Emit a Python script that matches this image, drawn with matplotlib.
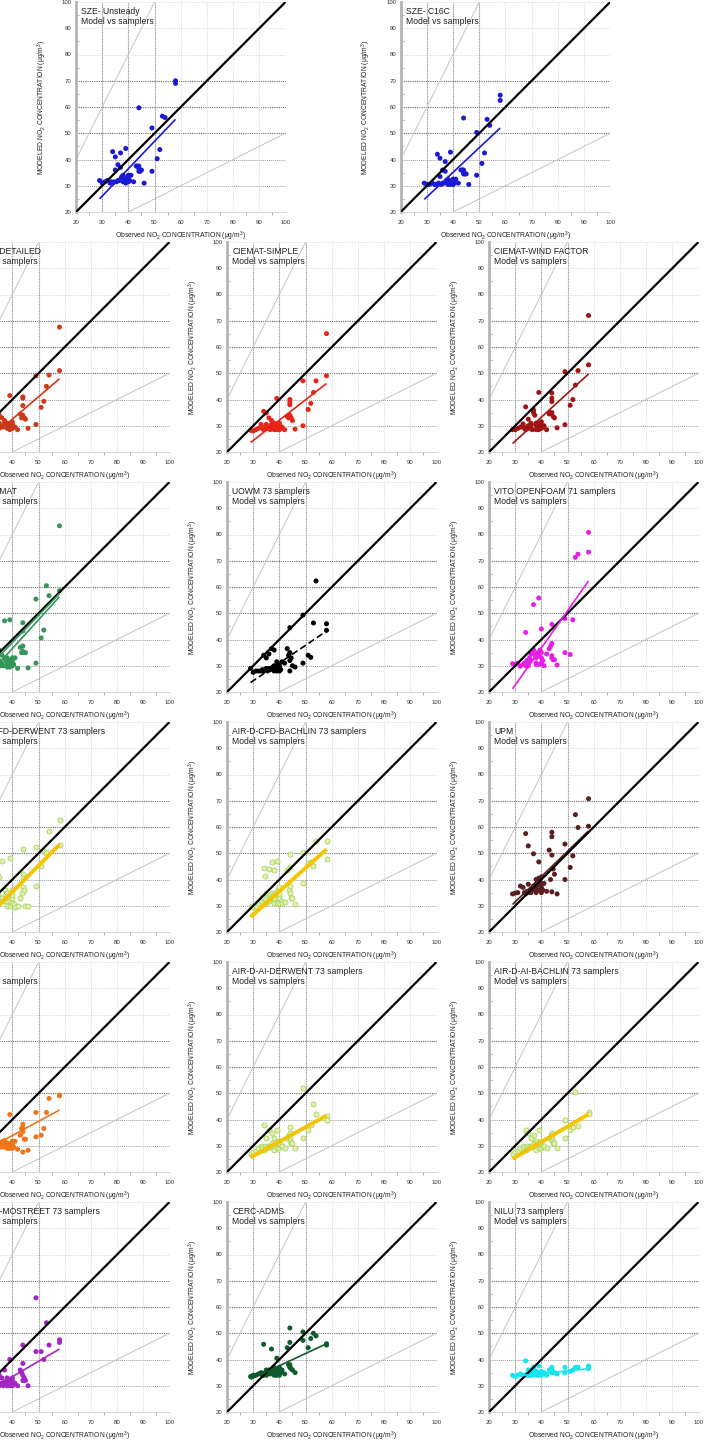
import numpy as np
import matplotlib
matplotlib.use("Agg")
import matplotlib.pyplot as plt

plt.rcParams['font.family'] = ['Liberation Sans', 'DejaVu Sans']
plt.rcParams['mathtext.default'] = 'regular'

# Observed NO2 at the sampler sites (ug/m3)
observed = [29, 30, 31, 32, 33, 33.5, 34, 34, 34.5, 35, 35, 35.5, 36, 36, 36.5,
            37, 37, 37.5, 38, 38, 38, 38.5, 39, 39, 39, 39.5, 40, 40, 40, 40,
            40.5, 41, 42, 43, 43.5, 44, 44, 44, 44, 44.5, 45, 46, 49, 49, 51,
            52, 53, 54, 58, 58]

# Modelled NO2 at the same sites, one list per model
sze_unsteady = [32, 31, 31.5, 32, 31, 31.5, 43, 31, 31.5, 41, 36, 31.5, 38, 32, 32,
                42.5, 37, 33.5, 34, 32.5, 31.5, 33, 44.2, 32, 31, 33, 34, 32.5, 31.5, 33,
                32, 34, 31.5, 37.5, 37.5, 59.7, 37.5, 35.5, 36.5, 35.5, 36, 31, 52, 35.5, 40.3,
                43.8, 56.5, 56, 70, 69]
sze_c16c = [31, 30.5, 30.5, 31, 30.5, 30.5, 42, 30.5, 31, 40.5, 33.5, 30.5, 36, 31, 31,
            39.2, 35.5, 32, 32.5, 31, 30.5, 31.5, 42.8, 31, 30.5, 32, 32.5, 31, 30.5, 31.5,
            31, 32.5, 31, 36, 36, 55.8, 36, 34.5, 35, 34.5, 34.5, 30.5, 50.3, 34, 38.5,
            42.5, 55.3, 53, 64.5, 62.5]
ciemat_detailed = [28.5, 28.5, 29, 29.5, 29, 30, 32, 29, 30, 34, 31, 29.5, 33, 30, 29.5,
                   32, 31, 30, 31, 30, 29, 30.5, 41.5, 30, 28.5, 31, 31.5, 30, 29, 30.5,
                   29.5, 29.5, 28.5, 34.5, 33, 41, 40.5, 37.7, 34, 33, 32.5, 29, 49, 30.5, 37,
                   39.3, 45, 49.3, 67.6, 51]
ciemat_simple = [28.3, 28, 28.5, 29, 30.5, 29, 35.5, 28.5, 29.5, 34.9, 30.5, 29, 33, 29.5, 28.5,
                 32, 30.5, 30, 31, 29.5, 28.5, 30, 40.4, 29.5, 28.5, 30.5, 31, 29.5, 28.5, 30,
                 29, 29.5, 28.5, 33.5, 33, 40, 39, 38, 34, 33, 32, 28.7, 47.1, 30, 36.2,
                 38.5, 42.7, 47.1, 65.1, 49]
ciemat_wind = [28.5, 28.5, 29, 29.5, 30.7, 29, 37.2, 28.5, 29.5, 32.5, 30, 29, 31, 29.5, 28.5,
               36, 35, 34, 31, 30, 28.5, 30.5, 42.7, 30, 28.5, 31, 31.5, 30, 29, 30.5,
               29.5, 30, 28.5, 34.5, 35, 42.5, 40.5, 39.2, 35, 33.5, 33, 29.2, 50.6, 30.4, 37.8,
               40, 45.5, 51, 72, 53.2]
cfd_ciemat = [29, 29.5, 30, 30.5, 31, 30, 38, 29.5, 31, 36, 32, 30, 34, 31, 30,
              47.1, 33, 32, 33, 31, 29.5, 32, 47.5, 31, 29.5, 32, 33, 31, 30, 32,
              30.5, 33, 29, 37, 35, 46.4, 43.2, 37.5, 35.5, 35, 35, 29.2, 55.4, 31, 40.6,
              43.6, 60.5, 56.7, 83.3, 58.6]
uowm = [29, 27.5, 28, 28, 28, 28.5, 34, 28, 28.5, 33, 29, 28, 34.5, 29, 28.5,
        36.5, 29, 29.5, 36, 30, 28, 29.5, 31.5, 29, 28, 29.5, 30, 29, 28, 29.5,
        28.5, 31.5, 31, 36.5, 34, 44.5, 35, 28, 32, 33, 30, 29.5, 49.3, 31, 34,
        33.2, 46.3, 62.3, 46, 43.5]
vito_openfoam = [30.8, 30.5, 31, 29.8, 30.5, 31, 42.7, 30, 32, 31.5, 30, 33, 34.5, 32, 35,
                 53.3, 36, 34, 33, 31, 30.5, 35, 55.8, 34, 30.5, 36, 44, 33, 31, 35,
                 32, 30, 34.5, 36.5, 37.5, 45.8, 38.5, 33.8, 33, 32.3, 32.3, 30.3, 48, 35, 34.3,
                 47.5, 71.3, 72.5, 80.8, 73.3]
cfd_derwent = [29, 29.5, 30, 31, 32, 33, 42, 30, 34, 41, 31, 32, 47, 33, 32,
               36, 34, 33, 35, 32, 30, 33, 48.3, 32, 30, 34, 36, 33, 31, 34,
               30.5, 29.5, 30, 33, 35, 51.5, 42, 40.5, 37.2, 36, 30, 29.8, 52.5, 37.5, 45,
               51, 50, 58.3, 62.7, 53]
cfd_bachlin = [30, 29.6, 30, 31, 32, 33.5, 44.5, 31, 41.5, 35, 31, 33, 44, 32, 33,
               46.5, 35, 34, 43.5, 33, 31, 35, 47.2, 34, 31, 36, 37, 33, 31, 34.5,
               32, 31, 31.5, 43.5, 36, 49.8, 44.7, 37.5, 35, 33, 33, 30.5, 50.5, 38.5, 46.3,
               46.5, 45, 54.5, 54.6, 48]
upm = [34.5, 34.8, 35, 37.5, 37, 35, 57.5, 34.5, 35.5, 52.8, 38.2, 35, 36, 35, 36.5,
       49.8, 37.5, 36, 40, 37, 35, 38, 46.7, 40.5, 36, 38, 41, 37, 35, 38.5,
       36, 38.5, 35.5, 51.2, 40, 58, 56.3, 49.3, 35.3, 44, 42, 34.5, 53.5, 40, 44.6,
       49, 64.7, 59.8, 70.8, 60.3]
orange_model = [29, 29.5, 30, 31, 30, 29.5, 32, 29.5, 30.5, 31, 30, 29.5, 31.5, 30, 29.5,
                32, 30.5, 30, 31, 30, 29, 30.5, 41.9, 30, 29, 31, 31.7, 30, 29, 30.5,
                29.5, 31.7, 28.7, 34, 36.6, 38.2, 36.6, 35.3, 27.6, 32.5, 32.5, 28.3, 42.7, 33.4, 34,
                36.6, 42.7, 48, 49.3, 49]
ai_derwent = [27, 27.5, 28, 29, 30, 29, 38, 28.5, 30, 33, 29, 30, 36, 29.5, 30,
              35, 31, 30, 33, 30, 28.5, 31, 36, 30, 29, 31, 32, 30, 29, 31,
              30, 30, 29, 33, 34, 37, 35, 33, 32, 31, 31, 29, 52, 33, 36,
              38, 46, 42, 41.5, 40]
ai_bachlin = [27, 27.5, 28, 29, 30, 29, 36, 28.5, 30, 35, 29, 30, 33, 29.5, 30,
              34, 31, 30, 32, 30, 28.5, 31, 36, 30, 29, 31, 32, 30, 29, 31,
              30, 30, 29, 33, 34, 35, 34, 33, 32, 31, 31, 29, 40, 33, 36,
              37, 50.5, 37.5, 43, 42]
mostreet = [31, 30, 30.5, 31, 31.5, 30, 35, 30.5, 31, 34, 30, 30.5, 33, 31, 30,
            36, 31.5, 31, 33, 31, 30, 32, 40, 31, 30, 32, 33, 31, 30, 32,
            30.5, 31, 30, 36, 35, 45.5, 38.5, 34, 32, 33, 32, 30, 63.5, 43, 43,
            40, 54, 45.5, 47.5, 46.5]
cerc_adms = [33.5, 34, 34, 34.5, 35, 34, 45.8, 34, 35, 36, 34, 34.5, 36, 35, 34.5,
             44, 36, 35, 37, 35, 34, 36, 40.5, 35, 34, 36, 37, 35, 34, 36,
             35, 36, 34.5, 44.5, 38, 52, 46.5, 38, 37, 36.5, 36, 35, 50.5, 47.3, 44.5,
             48, 50, 49, 46, 45.5]
nilu = [34, 33.5, 34, 34.5, 34, 34, 39.5, 34, 34.5, 36, 34, 34, 36, 34.5, 34,
        37, 35, 34.5, 35.5, 34.5, 34, 35, 37.5, 34.5, 34, 35, 35.5, 34.5, 34, 35,
        34.5, 35, 34, 36, 35.5, 37, 36, 35.5, 35, 35, 35, 34.5, 37, 35, 35.5,
        36, 37, 37, 37.5, 36.5]

# Regression lines: model value at the two ends of the observed range
fit_x = [29, 58]
sze_unsteady_fit = [25.0, 55.3]
sze_c16c_fit = [24.8, 52.0]
ciemat_detailed_fit = [23.1, 47.9]
ciemat_simple_fit = [23.6, 46.1]
ciemat_wind_fit = [23.2, 49.7]
cfd_ciemat_fit = [24.5, 56.3]
cfd_ciemat_fit2 = [27.5, 57.5]
uowm_fit = [23.6, 43.2]
vito_openfoam_fit = [21.2, 62.3]
cfd_derwent_fit = [24.3, 53.3]
cfd_bachlin_fit = [25.7, 51.5]
upm_fit = [30.5, 58.5]
orange_model_fit = [28.0, 43.6]
ai_derwent_fit = [25.5, 41.5]
ai_bachlin_fit = [25.0, 42.0]
mostreet_fit = [27.0, 44.0]
cerc_adms_fit = [32.5, 46.0]
nilu_fit = [33.5, 36.5]

W, H = 704, 1440
fig = plt.figure(figsize=(W / 100, H / 100), dpi=100)
fig.patch.set_facecolor('white')

AX_W, AX_H = 209.5, 210
col_left = [-40, 227, 489]
row_top = [242 + 240 * i for i in range(5)]

hollow = dict(face='#e3f1b5', edge='#a9d35e')

panels = [
    dict(pos=(76, 2), title=["SZE- Unsteady", "Model vs samplers"],
         y=sze_unsteady, fit=[sze_unsteady_fit], color='#1a1ad2'),
    dict(pos=(400.7, 2), title=["SZE- C16C", "Model vs samplers"],
         y=sze_c16c, fit=[sze_c16c_fit], color='#1a1ad2'),
    dict(pos=(col_left[0], row_top[0]), title=["CIEMAT-DETAILED", "Model vs samplers"],
         y=ciemat_detailed, fit=[ciemat_detailed_fit], color='#cc3a18'),
    dict(pos=(col_left[1], row_top[0]), title=["CIEMAT-SIMPLE", "Model vs samplers"],
         y=ciemat_simple, fit=[ciemat_simple_fit], color='#e62418'),
    dict(pos=(col_left[2], row_top[0]), title=["CIEMAT-WIND FACTOR", "Model vs samplers"],
         y=ciemat_wind, fit=[ciemat_wind_fit], color='#a01414'),
    dict(pos=(col_left[0], row_top[1]), title=["CFD CIEMAT", "Model vs samplers"],
         y=cfd_ciemat, fit=[cfd_ciemat_fit, cfd_ciemat_fit2], color='#35955a'),
    dict(pos=(col_left[1], row_top[1]), title=["UOWM 73 samplers", "Model vs samplers"],
         y=uowm, fit=[uowm_fit], color='#000000', dashed=True),
    dict(pos=(col_left[2], row_top[1]), title=["VITO OPENFOAM 71 samplers", "Model vs samplers"],
         y=vito_openfoam, fit=[vito_openfoam_fit], color='#e61ee6'),
    dict(pos=(col_left[0], row_top[2]), title=["AIR-D-CFD-DERWENT 73 samplers", "Model vs samplers"],
         y=cfd_derwent, fit=[cfd_derwent_fit], color='#f4c400', hollow=True),
    dict(pos=(col_left[1], row_top[2]), title=["AIR-D-CFD-BACHLIN 73 samplers", "Model vs samplers"],
         y=cfd_bachlin, fit=[cfd_bachlin_fit], color='#f4c400', hollow=True),
    dict(pos=(col_left[2], row_top[2]), title=["UPM", "Model vs samplers"],
         y=upm, fit=[upm_fit], color='#5a1e1e', under=True),
    dict(pos=(col_left[0], row_top[3]), title=["", "Model vs samplers"],
         y=orange_model, fit=[orange_model_fit], color='#f07418'),
    dict(pos=(col_left[1], row_top[3]), title=["AIR-D-AI-DERWENT 73 samplers", "Model vs samplers"],
         y=ai_derwent, fit=[ai_derwent_fit], color='#f4c400', hollow=True),
    dict(pos=(col_left[2], row_top[3]), title=["AIR-D-AI-BACHLIN 73 samplers", "Model vs samplers"],
         y=ai_bachlin, fit=[ai_bachlin_fit], color='#f4c400', hollow=True),
    dict(pos=(col_left[0], row_top[4]), title=["AIR-D-AI-MOSTREET 73 samplers", "Model vs samplers"],
         y=mostreet, fit=[mostreet_fit], color='#a424c4'),
    dict(pos=(col_left[1], row_top[4]), title=["CERC-ADMS", "Model vs samplers"],
         y=cerc_adms, fit=[cerc_adms_fit], color='#0e5a2c'),
    dict(pos=(col_left[2], row_top[4]), title=["NILU 73 samplers", "Model vs samplers"],
         y=nilu, fit=[nilu_fit], color='#14e6ee'),
]

ticks = list(range(20, 101, 10))
ref = np.array([20.0, 100.0])


def draw_panel(p):
    left, top = p['pos']
    ax = fig.add_axes([left / W, 1 - (top + AX_H) / H, AX_W / W, AX_H / H])
    ax.set_xlim(20, 100)
    ax.set_ylim(20, 100)
    ax.set_facecolor('white')

    # grid
    for v in ticks[1:]:
        if v <= 50:
            ax.axvline(v, color='#9a9a9a', lw=0.8, ls=(0, (1, 0.6)), zorder=1)
        else:
            ax.axvline(v, color='#d2d2d2', lw=0.6, ls=(0, (1, 1.2)), zorder=1)
        if 50 <= v <= 70:
            ax.axhline(v, color='#6a6a6a', lw=0.8, ls=(0, (1, 1)), zorder=1)
        elif v < 50:
            ax.axhline(v, color='#9c9c9c', lw=0.7, ls=(0, (1, 1)), zorder=1)
        else:
            ax.axhline(v, color='#d2d2d2', lw=0.6, ls=(0, (1, 1.2)), zorder=1)

    # factor-of-two and 1:1 lines
    ax.plot(ref, ref * 2, color='#c4c4c4', lw=0.7, zorder=2)
    ax.plot(ref, ref / 2, color='#c4c4c4', lw=0.7, zorder=2)
    ax.plot(ref, ref, color='black', lw=1.6, zorder=4, solid_capstyle='butt')

    if p.get('hollow'):
        ax.scatter(observed, p['y'], s=13, facecolors=hollow['face'],
                   edgecolors=hollow['edge'], linewidths=0.6, zorder=3)
        fit_lw = 2.8
    else:
        ax.scatter(observed, p['y'], s=13, color=p['color'], edgecolors='none', zorder=3)
        fit_lw = 1.2
    for f in p['fit']:
        ax.plot(fit_x, f, color=p['color'], lw=fit_lw,
                ls=(0, (4, 2)) if p.get('dashed') else '-',
                zorder=3.5 if p.get('under') else 5, solid_capstyle='butt')

    ax.text(0.025, 0.975, "\n".join(p['title']), transform=ax.transAxes,
            ha='left', va='top', fontsize=6.2, linespacing=1.15, color='#202020', zorder=6)

    for s in ('top', 'right'):
        ax.spines[s].set_visible(False)
    ax.spines['left'].set_color('#b4b4b4')
    ax.spines['left'].set_linewidth(2.0)
    ax.spines['bottom'].set_color('#d0d0d0')
    ax.spines['bottom'].set_linewidth(0.6)

    ax.set_xticks(ticks)
    ax.set_yticks(ticks)
    ax.set_xticks(np.arange(25, 100, 10), minor=True)
    ax.set_yticks(np.arange(25, 100, 10), minor=True)
    ax.tick_params(axis='both', which='major', length=0, labelsize=4.3, colors='#303030')
    ax.tick_params(axis='x', which='major', pad=6)
    ax.tick_params(axis='y', which='major', pad=3)
    ax.tick_params(axis='x', which='minor', length=2, direction='out', color='#909090', width=0.5)
    ax.tick_params(axis='y', which='minor', length=2.5, direction='in', color='#909090', width=0.5)

    ax.set_xlabel('Observed NO$_2$ CONCENTRATION ($\\mu$g/m$^3$)', fontsize=4.9, color='#202020')
    ax.set_ylabel('MODELED NO$_2$ CONCENTRATION ($\\mu$g/m$^3$)', fontsize=4.9, color='#202020')
    ax.xaxis.set_label_coords(0.5, -0.085)
    ax.yaxis.set_label_coords(-0.13, 0.5)


for p in panels:
    draw_panel(p)

fig.savefig('out.png', dpi=100, facecolor='white')
